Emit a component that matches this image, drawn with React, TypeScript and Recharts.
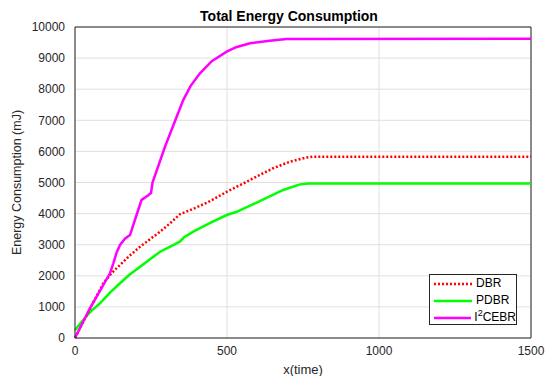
import React from "react";
import {
  LineChart,
  Line,
  XAxis,
  YAxis,
  CartesianGrid,
  Legend,
  ReferenceLine,
} from "recharts";

const xTicks = [0, 500, 1000, 1500];
const yTicks = [0, 1000, 2000, 3000, 4000, 5000, 6000, 7000, 8000, 9000, 10000];

const dbrTime = [0, 25, 50, 93, 120, 148, 180, 214, 250, 280, 320, 345, 400, 444, 499, 550, 597, 650, 707, 760, 784, 1500];
const dbrEnergy = [0, 480, 950, 1760, 2080, 2347, 2650, 2936, 3200, 3418, 3750, 3980, 4200, 4400, 4700, 4950, 5190, 5450, 5670, 5800, 5830, 5830];

const pdbrTime = [0, 10, 27, 50, 82, 115, 148, 180, 214, 250, 280, 345, 360, 389, 440, 499, 530, 608, 685, 740, 770, 1500];
const pdbrEnergy = [250, 380, 580, 840, 1115, 1460, 1760, 2040, 2293, 2560, 2775, 3096, 3250, 3418, 3680, 3955, 4050, 4400, 4760, 4940, 4970, 4970];

const i2cebrTime = [0, 49, 90, 115, 126, 137, 148, 165, 181, 197, 219, 240, 250, 255, 296, 330, 356, 380, 411, 450, 499, 530, 576, 640, 696, 1500];
const i2cebrEnergy = [0, 955, 1650, 2080, 2400, 2750, 2990, 3200, 3310, 3794, 4440, 4580, 4660, 5000, 6150, 7000, 7650, 8100, 8510, 8900, 9206, 9350, 9476, 9560, 9614, 9620];

const toRows = (t: number[], v: number[]) => t.map((x, i) => ({ t: x, v: v[i] }));

const dbr = toRows(dbrTime, dbrEnergy);
const pdbr = toRows(pdbrTime, pdbrEnergy);
const i2cebr = toRows(i2cebrTime, i2cebrEnergy);

const FONT = "'Liberation Sans', Arial, Helvetica, sans-serif";
const AXIS = "#262626";

const LegendBox = () => {
  const row = (label: React.ReactNode, color: string, dash?: string) => (
    <div style={{ display: "flex", alignItems: "center", height: 17 }}>
      <svg width={40} height={6} style={{ marginRight: 3 }}>
        <line x1={1} y1={3} x2={39} y2={3} stroke={color} strokeWidth={2.5} strokeDasharray={dash} />
      </svg>
      <span>{label}</span>
    </div>
  );
  return (
    <div
      style={{
        border: "1px solid #262626",
        background: "#fff",
        width: 88,
        height: 51,
        boxSizing: "border-box",
        padding: "0 0 0 3px",
        fontFamily: FONT,
        fontSize: 12,
        color: "#000",
        lineHeight: "17px",
      }}
    >
      {row("DBR", "#ff0000", "2 2")}
      {row("PDBR", "#00ff00")}
      {row(
        <>
          I<sup style={{ fontSize: 9, lineHeight: 0 }}>2</sup>CEBR
        </>,
        "#ff00ff"
      )}
    </div>
  );
};

export default function App() {
  return (
    <div style={{ position: "absolute", left: 0, top: 0, width: 547, height: 376, background: "#fff" }}>
      <LineChart width={547} height={376} margin={{ top: 27, right: 16, left: 0, bottom: 0 }}>
        <CartesianGrid stroke="#e0e0e0" strokeWidth={1} />
        <XAxis
          dataKey="t"
          type="number"
          domain={[0, 1500]}
          ticks={xTicks}
          height={38}
          allowDuplicatedCategory={false}
          stroke={AXIS}
          tickLine={false}
          tickSize={6}
          tickMargin={2}
          tick={{ fill: AXIS, fontSize: 12, fontFamily: FONT }}
          label={{ value: "x(time)", position: "insideBottom", offset: 2, fill: AXIS, fontSize: 13, fontFamily: FONT }}
        />
        <YAxis
          dataKey="v"
          type="number"
          domain={[0, 10000]}
          ticks={yTicks}
          width={75}
          stroke={AXIS}
          tickLine={false}
          tickSize={8}
          tickMargin={2}
          tick={{ fill: AXIS, fontSize: 12, fontFamily: FONT }}
          label={{
            value: "Energy Consumption (mJ)",
            angle: -90,
            position: "insideLeft",
            offset: 17,
            fill: AXIS,
            fontSize: 12.5,
            fontFamily: FONT,
            style: { textAnchor: "middle" },
          }}
        />
        <ReferenceLine y={10000} stroke={AXIS} />
        <ReferenceLine x={1500} stroke={AXIS} />
        <Line data={pdbr} dataKey="v" name="PDBR" type="linear" stroke="#00ff00" strokeWidth={2.5} dot={false} isAnimationActive={false} />
        <Line data={dbr} dataKey="v" name="DBR" type="linear" stroke="#ff0000" strokeWidth={2.5} strokeDasharray="2 2" dot={false} isAnimationActive={false} />
        <Line data={i2cebr} dataKey="v" name="I2CEBR" type="linear" stroke="#ff00ff" strokeWidth={2.5} dot={false} isAnimationActive={false} />
        <Legend
          layout="vertical"
          align="center"
          verticalAlign="middle"
          content={() => <LegendBox />}
          wrapperStyle={{ left: 429, top: 274, width: 88, height: 52 }}
        />
        <text x={289} y={21} textAnchor="middle" fontFamily={FONT} fontSize={14} fontWeight="bold" fill="#000">
          Total Energy Consumption
        </text>
      </LineChart>
    </div>
  );
}
